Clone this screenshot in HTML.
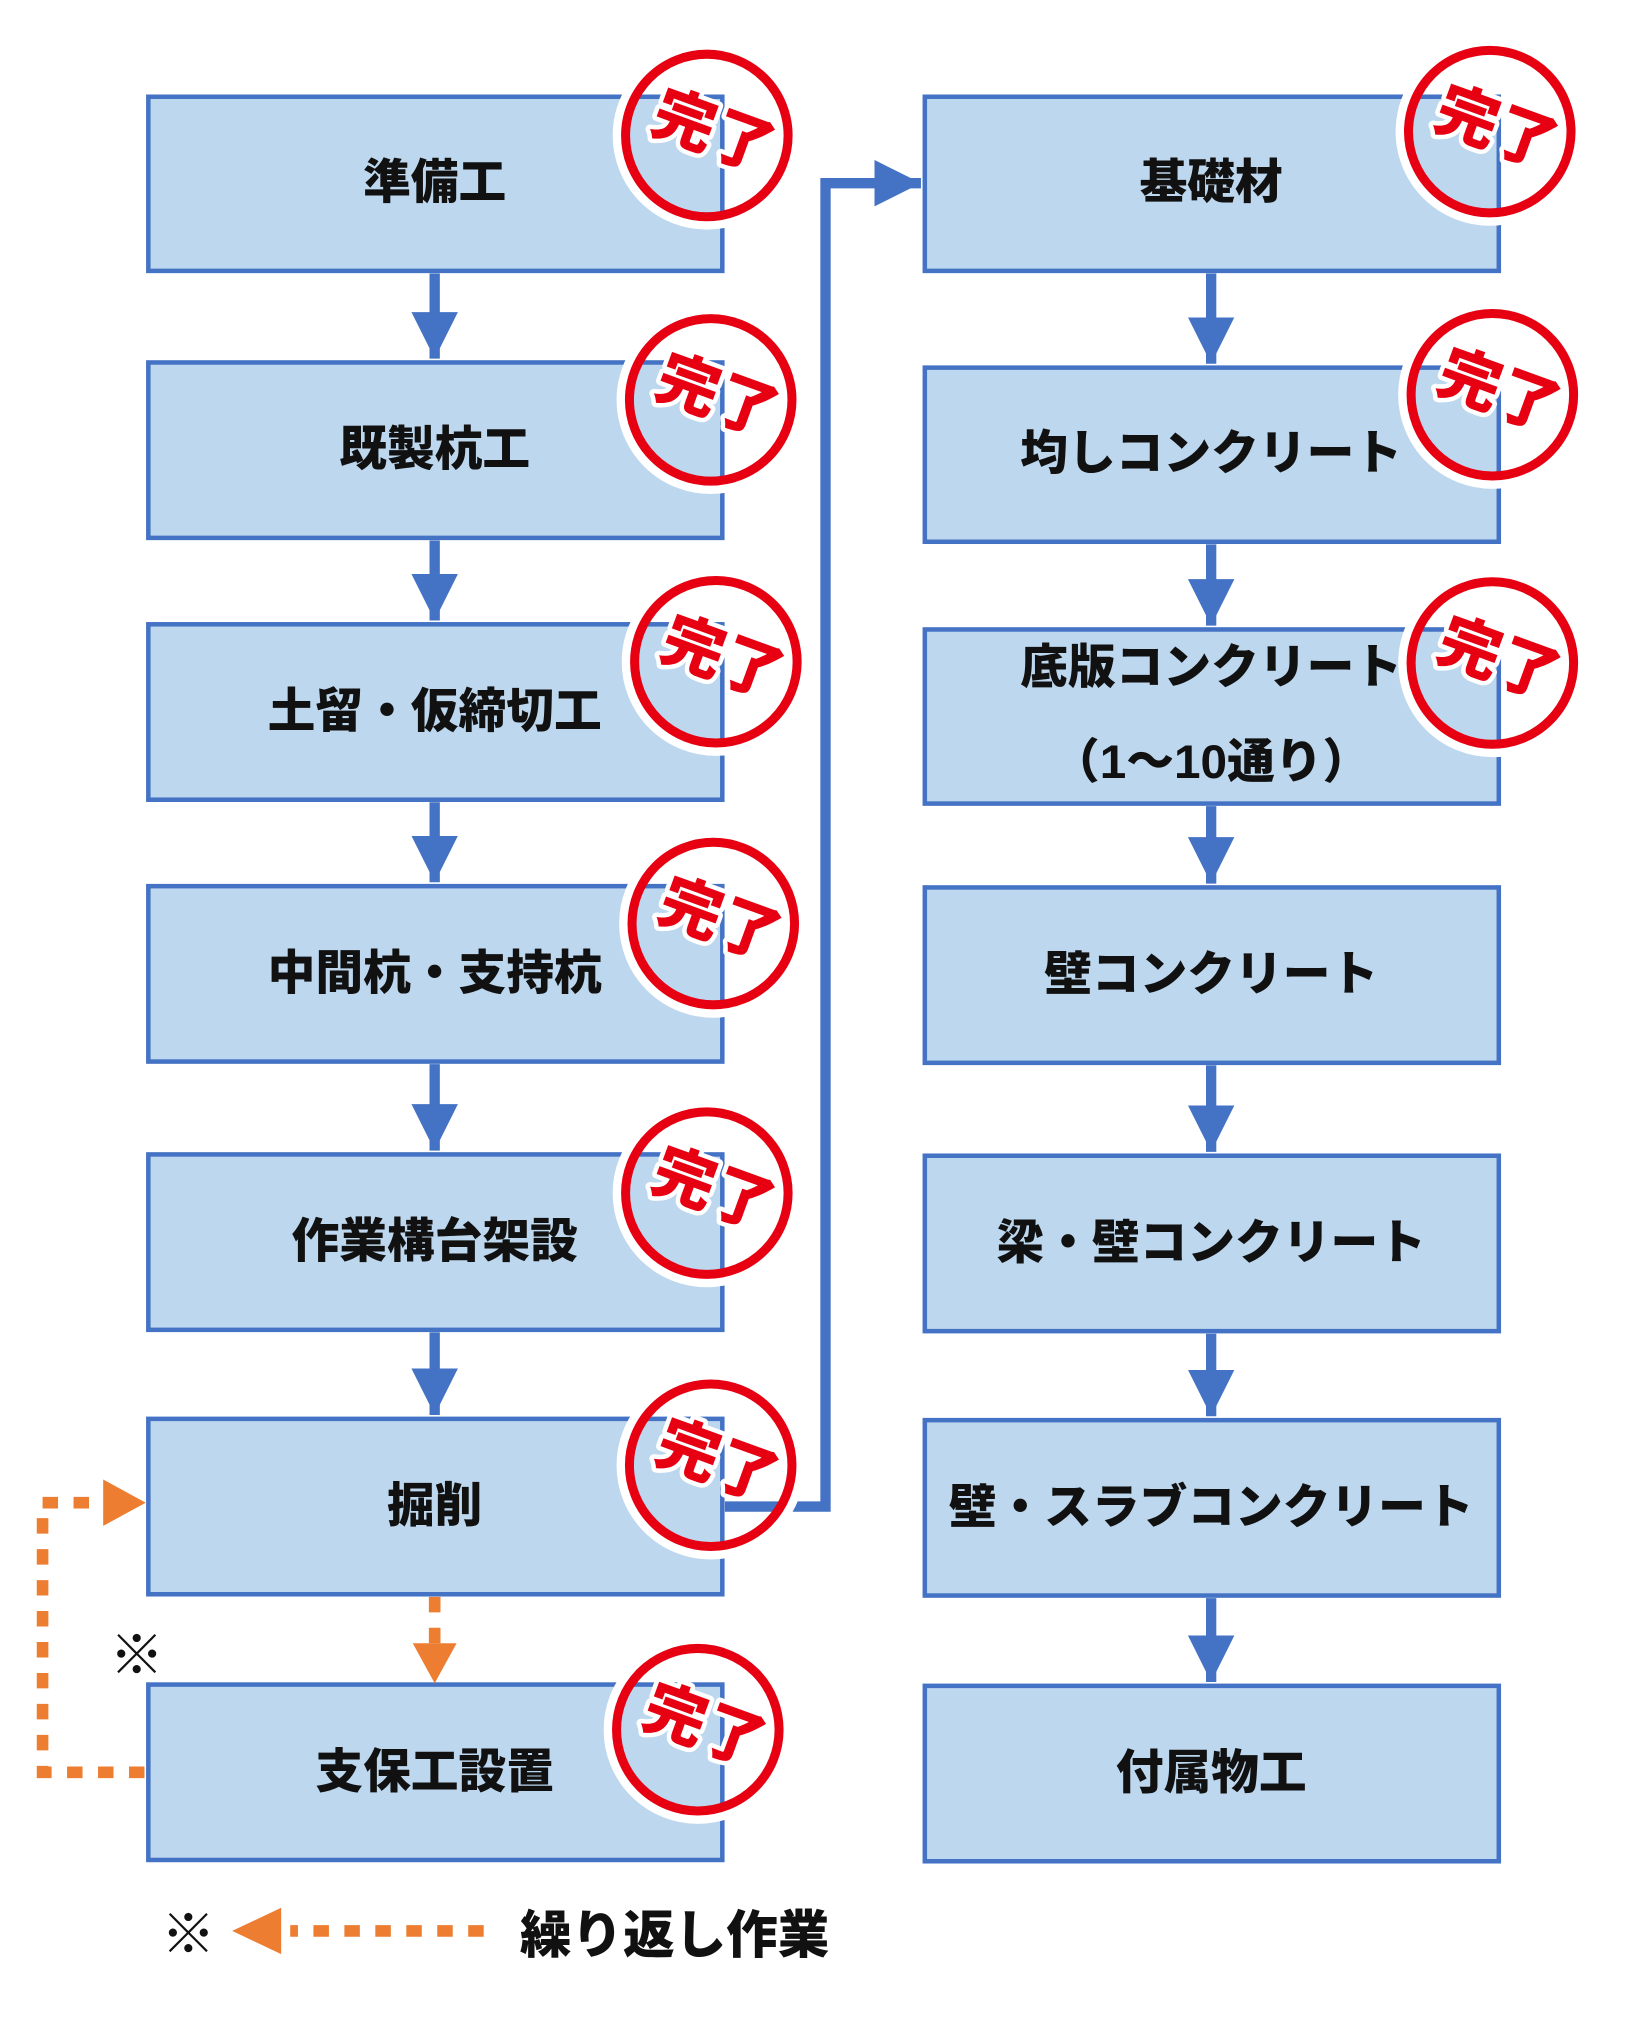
<!DOCTYPE html>
<html><head><meta charset="utf-8"><style>
html,body{margin:0;padding:0;background:#fff;}
svg{display:block}
.t{font-family:"Liberation Sans","Noto Sans CJK JP",sans-serif;font-weight:900;font-size:37px;fill:#111;text-anchor:middle;dominant-baseline:central}
.s{font-family:"Liberation Sans","Noto Sans CJK JP",sans-serif;font-weight:900;font-size:48px;fill:#E60012;stroke:#fff;stroke-width:7px;paint-order:stroke;stroke-linejoin:round;text-anchor:middle;dominant-baseline:central}
</style></head><body>
<svg width="1651" height="2038" viewBox="0 0 1280 1580" xmlns="http://www.w3.org/2000/svg">
<defs>
<marker id="ab" viewBox="0 0 10 10" refX="10" refY="5" markerWidth="4.5" markerHeight="4.5" markerUnits="strokeWidth" orient="auto"><path d="M0,0L10,5L0,10z" fill="#4472C4"/></marker>
<g id="stamp">
<circle r="68" fill="none" stroke="#fff" stroke-width="10"/>
<circle r="63" fill="none" stroke="#E60012" stroke-width="7"/>
<text class="s" x="4" y="-4" transform="rotate(20)">完了</text>
</g>
</defs>
<g fill="#BDD7EE" stroke="#4472C4" stroke-width="3.5">
<rect x="115" y="75" width="445" height="135"/>
<rect x="115" y="281" width="445" height="136"/>
<rect x="115" y="484" width="445" height="136"/>
<rect x="115" y="687" width="445" height="136"/>
<rect x="115" y="895" width="445" height="136"/>
<rect x="115" y="1100" width="445" height="136"/>
<rect x="115" y="1306" width="445" height="136"/>
<rect x="717" y="75" width="445" height="135"/>
<rect x="717" y="285" width="445" height="135"/>
<rect x="717" y="488" width="445" height="135"/>
<rect x="717" y="688" width="445" height="136"/>
<rect x="717" y="896" width="445" height="136"/>
<rect x="717" y="1101" width="445" height="136"/>
<rect x="717" y="1307" width="445" height="136"/>
</g>
<g stroke="#4472C4" stroke-width="8" fill="none">
<line x1="337" y1="212" x2="337" y2="278" marker-end="url(#ab)"/>
<line x1="337" y1="419" x2="337" y2="481" marker-end="url(#ab)"/>
<line x1="337" y1="622" x2="337" y2="684" marker-end="url(#ab)"/>
<line x1="337" y1="825" x2="337" y2="892" marker-end="url(#ab)"/>
<line x1="337" y1="1033" x2="337" y2="1097" marker-end="url(#ab)"/>
<line x1="939" y1="212" x2="939" y2="282" marker-end="url(#ab)"/>
<line x1="939" y1="422" x2="939" y2="485" marker-end="url(#ab)"/>
<line x1="939" y1="625" x2="939" y2="685" marker-end="url(#ab)"/>
<line x1="939" y1="826" x2="939" y2="893" marker-end="url(#ab)"/>
<line x1="939" y1="1034" x2="939" y2="1098" marker-end="url(#ab)"/>
<line x1="939" y1="1239" x2="939" y2="1304" marker-end="url(#ab)"/>
<polyline points="562,1168 640,1168 640,142 714,142" marker-end="url(#ab)"/>
</g>
<g stroke="#ED7D31" stroke-width="9" fill="none" stroke-dasharray="12,12">
<polyline points="112,1374 33,1374 33,1165 78,1165"/>
<line x1="337" y1="1238" x2="337" y2="1274"/>
<line x1="375" y1="1497" x2="225" y2="1497"/>
</g>
<g fill="#ED7D31">
<path d="M80,1147L113,1165L80,1183z"/>
<path d="M320,1274L354,1274L337,1305z"/>
<path d="M218,1479L180,1497L218,1515z"/>
</g>
<g>
<text x="337" y="142" class="t">準備工</text>
<text x="337" y="349" class="t">既製杭工</text>
<text x="337" y="552" class="t">土留・仮締切工</text>
<text x="337" y="755" class="t">中間杭・支持杭</text>
<text x="337" y="963" class="t">作業構台架設</text>
<text x="337" y="1168" class="t">掘削</text>
<text x="337" y="1374" class="t">支保工設置</text>
<text x="939" y="142" class="t">基礎材</text>
<text x="939" y="352" class="t">均しコンクリート</text>
<text x="939" y="518" class="t">底版コンクリート</text>
<text x="939" y="591" class="t">（1～10通り）</text>
<text x="939" y="756" class="t">壁コンクリート</text>
<text x="939" y="964" class="t">梁・壁コンクリート</text>
<text x="939" y="1169" class="t">壁・スラブコンクリート</text>
<text x="939" y="1375" class="t">付属物工</text>
<text x="106" y="1284" class="t" style="font-size:42px">※</text>
<text x="146" y="1500" class="t" style="font-size:42px">※</text>
<text x="523" y="1500" class="t" style="font-size:40px">繰り返し作業</text>
</g>
<use href="#stamp" x="548" y="105"/>
<use href="#stamp" x="551" y="310"/>
<use href="#stamp" x="555" y="513"/>
<use href="#stamp" x="553" y="716"/>
<use href="#stamp" x="548" y="925"/>
<use href="#stamp" x="551" y="1136"/>
<use href="#stamp" x="541" y="1341"/>
<use href="#stamp" x="1155" y="102"/>
<use href="#stamp" x="1157" y="306"/>
<use href="#stamp" x="1157" y="514"/>
</svg>
</body></html>
